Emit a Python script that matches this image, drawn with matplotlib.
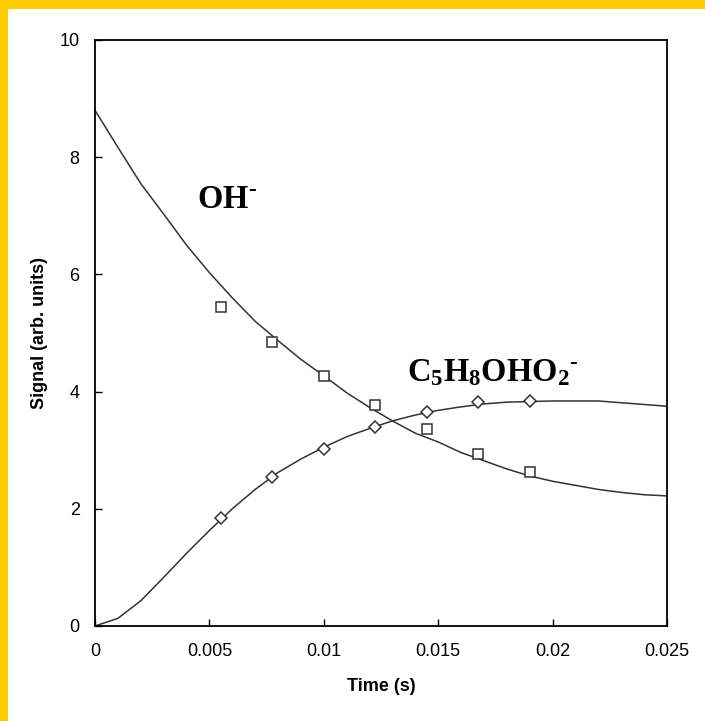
import matplotlib
matplotlib.use("Agg")
import matplotlib.pyplot as plt
from matplotlib.patches import Rectangle

plt.rcParams['font.family'] = ['Liberation Sans', 'DejaVu Sans']
plt.rcParams['mathtext.fontset'] = 'custom'
plt.rcParams['mathtext.rm'] = 'Liberation Serif:bold'
plt.rcParams['mathtext.bf'] = 'Liberation Serif:bold'
plt.rcParams['mathtext.it'] = 'Liberation Serif:bold'

# Measured data
t_meas = [0.0055, 0.00775, 0.0100, 0.01225, 0.0145, 0.01675, 0.0190]
oh_meas = [5.44, 4.84, 4.27, 3.77, 3.36, 2.94, 2.63]
prod_meas = [1.85, 2.54, 3.02, 3.40, 3.66, 3.83, 3.84]

# Model curves
t_model = [0.000, 0.001, 0.002, 0.003, 0.004, 0.005, 0.006, 0.007, 0.008,
           0.009, 0.010, 0.011, 0.012, 0.013, 0.014, 0.015, 0.016, 0.017,
           0.018, 0.019, 0.020, 0.021, 0.022, 0.023, 0.024, 0.025]
oh_model = [8.80, 8.17, 7.55, 7.03, 6.50, 6.03, 5.60, 5.20, 4.87,
            4.55, 4.27, 3.98, 3.73, 3.50, 3.29, 3.14, 2.96, 2.82,
            2.68, 2.56, 2.47, 2.40, 2.33, 2.28, 2.24, 2.22]
prod_model = [0.00, 0.13, 0.43, 0.83, 1.24, 1.63, 2.00, 2.33, 2.62,
              2.85, 3.05, 3.23, 3.37, 3.50, 3.60, 3.68, 3.74, 3.79,
              3.82, 3.83, 3.84, 3.84, 3.84, 3.81, 3.78, 3.75]

x_ticks = [0, 0.005, 0.01, 0.015, 0.02, 0.025]
x_ticklabels = ['0', '0.005', '0.01', '0.015', '0.02', '0.025']
y_ticks = [0, 2, 4, 6, 8, 10]
y_ticklabels = ['0', '2', '4', '6', '8', '10']

W, H = 705, 721
fig = plt.figure(figsize=(W / 100, H / 100), dpi=100)
fig.patch.set_facecolor('white')
ax = fig.add_axes([95 / W, 1 - 626 / H, 572 / W, 586 / H])

lc = '#333333'
ax.plot(t_model, oh_model, color=lc, lw=1.1)
ax.plot(t_model, prod_model, color=lc, lw=1.1)
ax.plot(t_meas, oh_meas, ls='none', marker='s', ms=7.2, mfc='white',
        mec=lc, mew=1.1)
ax.plot(t_meas, prod_meas, ls='none', marker='D', ms=6.4, mfc='white',
        mec=lc, mew=1.1)

ax.set_xlim(0, 0.025)
ax.set_ylim(0, 10)
ax.set_xticks(x_ticks)
ax.set_xticklabels(x_ticklabels)
ax.set_yticks(y_ticks)
ax.set_yticklabels(y_ticklabels)
ax.tick_params(direction='in', length=5, width=1, labelsize=13, color='black')
ax.tick_params(axis='x', pad=12)
ax.tick_params(axis='y', pad=11)
for s in ax.spines.values():
    s.set_linewidth(1.3)
    s.set_color('black')

ax.set_xlabel('Time (s)', fontsize=13, fontweight='bold')
ax.set_ylabel('Signal (arb. units)', fontsize=13, fontweight='bold')
ax.xaxis.set_label_coords(0.5, -0.088)
ax.yaxis.set_label_coords(-0.083, 0.5)

ax.text(0.00444, 7.13, r'$\mathbf{OH}^{\text{-}}$', fontsize=23.5, ha='left',
        va='baseline')
ax.text(0.01362, 4.17, r'$\mathbf{C_5H_8OHO_2}^{\text{-}}$', fontsize=23.5,
        ha='left', va='baseline')

# yellow border (top and left)
fig.add_artist(Rectangle((0, 1 - 9 / H), 1, 9 / H, transform=fig.transFigure,
                         color='#FFCC00', lw=0))
fig.add_artist(Rectangle((0, 0), 8 / W, 1, transform=fig.transFigure,
                         color='#FFCC00', lw=0))

fig.savefig('out.png', dpi=100)
